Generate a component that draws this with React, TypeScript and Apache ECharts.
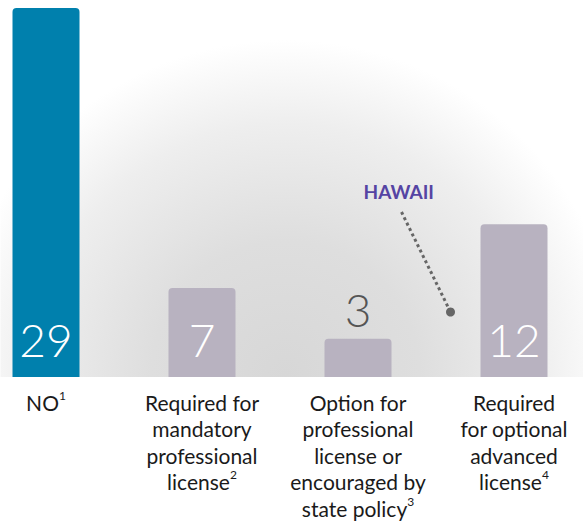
import React, { useEffect, useRef } from "react";
import * as echarts from "echarts";

const categories = [
  "NO",
  "Required for\nmandatory\nprofessional\nlicense",
  "Option for\nprofessional\nlicense or\nencouraged by\nstate policy",
  "Required\nfor optional\nadvanced\nlicense",
];
const footnotes = ["1", "2", "3", "4"];
const values = [29, 7, 3, 12];
const barColors = ["#0080ad", "#b8b2c0", "#b8b2c0", "#b8b2c0"];
const labelAbove = [false, false, true, false];
const annotationText = "HAWAII";

const OX = 32.5; // horizontal offset of the inner chart canvas

export default function App() {
  const ref = useRef<HTMLDivElement>(null);
  useEffect(() => {
    if (!ref.current) return;
    const chart = echarts.init(ref.current, undefined, { renderer: "svg" });
    const FONT = "Lato, 'Noto Sans', sans-serif";
    const option: any = {
      animation: false,
      grid: { left: 0, right: 0, top: 8, height: 369 },
      xAxis: {
        type: "category",
        data: categories,
        axisLine: { show: false },
        axisTick: { show: false },
        axisLabel: {
          interval: 0,
          margin: 12,
          formatter: (v: string, i: number) => {
            const lines = v.split("\n");
            return lines
              .map((l, k) => (k === lines.length - 1 ? `{t|${l}}{s|${footnotes[i]}}` : `{t|${l}}`))
              .join("\n");
          },
          rich: {
            t: { fontFamily: FONT, fontSize: 21, lineHeight: 26.5, color: "#1a1a1a" },
            s: { fontFamily: FONT, fontSize: 12, lineHeight: 16, verticalAlign: "top", color: "#1a1a1a" },
          },
        },
      },
      yAxis: { type: "value", min: 0, max: 29, show: false, splitLine: { show: false } },
      graphic: [
        {
          type: "rect",
          z: -10,
          shape: { x: OX, y: 0, width: 583, height: 377 },
          style: {
            fill: {
              type: "radial",
              x: OX + 285,
              y: 375,
              r: 335,
              global: true,
              colorStops: [
                { offset: 0, color: "#d7d7d7" },
                { offset: 0.4, color: "#dedede" },
                { offset: 0.75, color: "#eeeeee" },
                { offset: 1, color: "#ffffff" },
              ],
            },
          },
        },
        {
          type: "text",
          x: OX + 363,
          y: 182,
          style: {
            text: annotationText,
            fill: "#5544a3",
            font: `bold 19px ${FONT}`,
          },
        },
        {
          type: "line",
          shape: { x1: OX + 401, y1: 212, x2: OX + 450, y2: 312 },
          style: { stroke: "#666666", lineWidth: 3, lineDash: [3, 3] },
        },
        {
          type: "circle",
          shape: { cx: OX + 450, cy: 312, r: 4.5 },
          style: { fill: "#666666" },
        },
      ],
      series: [
        {
          type: "bar",
          barWidth: 67,
          data: values.map((v, i) => ({
            value: v,
            itemStyle: { color: barColors[i], borderRadius: [4, 4, 0, 0] },
            label: labelAbove[i]
              ? { position: "top", color: "#555555", distance: 6 }
              : { position: "insideBottom", color: "#ffffff", distance: 15 },
          })),
          label: {
            show: true,
            fontFamily: FONT,
            fontSize: 46,
            fontWeight: 300,
          },
        },
      ],
    };
    chart.setOption(option);
    return () => chart.dispose();
  }, []);
  return (
    <div
      style={{
        position: "absolute",
        left: 0,
        top: 0,
        width: 583,
        height: 525,
        overflow: "hidden",
        background: "#fff",
      }}
    >
      <div
        ref={ref}
        style={{ position: "absolute", left: -OX, top: 0, width: 624, height: 525 }}
      />
    </div>
  );
}
